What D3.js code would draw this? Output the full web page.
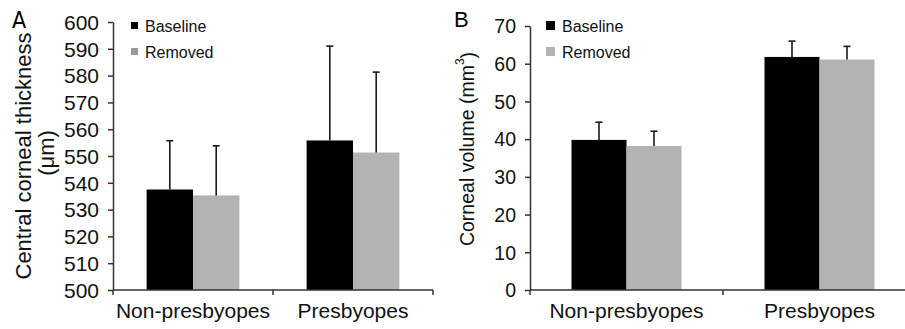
<!DOCTYPE html>
<html>
<head>
<meta charset="utf-8">
<script src="https://cdn.jsdelivr.net/npm/d3@7"></script>
<style>
  body { margin: 0; background: #fff; }
  text { font-family: "Liberation Sans", Arial, sans-serif; }
</style>
</head>
<body>
<script>
// #region DATA
var groups = ["Non-presbyopes", "Presbyopes"];
var series = ["Baseline", "Removed"];

// panel A: central corneal thickness (um)
var thicknessMean = [[537.5, 535.3], [555.8, 551.3]];
var thicknessSD = [[18.2, 18.5], [35.2, 30.0]];
var thicknessTicks = [500, 510, 520, 530, 540, 550, 560, 570, 580, 590, 600];

// panel B: corneal volume (mm3)
var volumeMean = [[39.8, 38.2], [61.8, 61.1]];
var volumeSD = [[4.7, 3.9], [4.2, 3.5]];
var volumeTicks = [0, 10, 20, 30, 40, 50, 60, 70];

var barColors = ["#000000", "#b3b3b3"];
// #endregion

var svg = d3.select("body")
    .append("svg")
    .attr("width", 905)
    .attr("height", 329);

// draws one panel
var drawPanel = function(opt) {
    var g = svg.append("g");

    var y = d3.scaleLinear()
        .domain(opt.domain)
        .range([opt.bottom, opt.top]);

    var x0 = d3.scaleBand()
        .domain(groups)
        .range([opt.left, opt.left + 2 * opt.band]);

    var groupW = opt.band * opt.frac;
    var x1 = d3.scaleBand()
        .domain(series)
        .range([(opt.band - groupW) / 2, (opt.band + groupW) / 2]);

    var rows = [];
    groups.forEach(function(grp, i) {
        series.forEach(function(s, j) {
            rows.push({group: grp, series: s, j: j, value: opt.mean[i][j], sd: opt.sd[i][j]});
        });
    });

    // bars
    g.append("g")
        .selectAll("rect")
        .data(rows)
        .enter()
        .append("rect")
            .attr("x", d => x0(d.group) + x1(d.series))
            .attr("y", d => y(d.value))
            .attr("width", x1.bandwidth())
            .attr("height", d => opt.bottom - y(d.value))
            .attr("fill", d => barColors[d.j]);

    // error bars (upper half only)
    var err = g.append("g")
        .attr("stroke", "#1a1a1a")
        .attr("stroke-width", 1.6);

    err.selectAll("line.v")
        .data(rows)
        .enter()
        .append("line")
            .attr("class", "v")
            .attr("x1", d => x0(d.group) + x1(d.series) + x1.bandwidth() / 2)
            .attr("x2", d => x0(d.group) + x1(d.series) + x1.bandwidth() / 2)
            .attr("y1", d => y(d.value))
            .attr("y2", d => y(d.value + d.sd));

    err.selectAll("line.cap")
        .data(rows)
        .enter()
        .append("line")
            .attr("class", "cap")
            .attr("x1", d => x0(d.group) + x1(d.series) + x1.bandwidth() / 2 - 3.5)
            .attr("x2", d => x0(d.group) + x1(d.series) + x1.bandwidth() / 2 + 3.5)
            .attr("y1", d => y(d.value + d.sd))
            .attr("y2", d => y(d.value + d.sd));

    // y axis
    var yAxis = g.append("g")
        .attr("transform", "translate(" + opt.left + ",0)")
        .call(d3.axisLeft(y).tickValues(opt.ticks).tickSize(5).tickSizeOuter(0).tickPadding(9));

    yAxis.selectAll("text")
        .attr("font-size", opt.tickFont + "px")
        .attr("fill", "#111")
        .attr("dy", "0.35em");

    // x axis, ticks sit on the group boundaries
    var xAxis = g.append("g")
        .attr("transform", "translate(0," + opt.bottom + ")");

    xAxis.append("line")
        .attr("x1", opt.left)
        .attr("x2", opt.left + 2 * opt.band)
        .attr("stroke", "#333")
        .attr("stroke-width", 1.5);

    xAxis.selectAll("line.tick")
        .data([0, 1, 2])
        .enter()
        .append("line")
            .attr("class", "tick")
            .attr("x1", d => opt.left + d * opt.band)
            .attr("x2", d => opt.left + d * opt.band)
            .attr("y1", 0)
            .attr("y2", 5)
            .attr("stroke", "#333")
            .attr("stroke-width", 1.5);

    xAxis.selectAll("text")
        .data(groups)
        .enter()
        .append("text")
            .text(d => d)
            .attr("x", d => x0(d) + x0.bandwidth() / 2)
            .attr("y", 28)
            .attr("text-anchor", "middle")
            .attr("font-size", "21px")
            .attr("fill", "#111");

    yAxis.select(".domain").attr("stroke", "#333").attr("stroke-width", 1.5);
    yAxis.selectAll(".tick line").attr("stroke", "#333").attr("stroke-width", 1.5);

    // legend
    var leg = g.append("g");
    series.forEach(function(s, j) {
        var ly = opt.legY + j * 26;
        leg.append("rect")
            .attr("x", opt.legX)
            .attr("y", ly - opt.legSq / 2)
            .attr("width", opt.legSq)
            .attr("height", opt.legSq)
            .attr("fill", j == 0 ? "#000" : opt.legGrey);
        leg.append("text")
            .text(s)
            .attr("x", opt.legX + opt.legSq + 7)
            .attr("y", ly + 6)
            .attr("font-size", "16px")
            .attr("fill", "#111");
    });

    return g;
};

// #region PANEL A
var gA = drawPanel({
    domain: [500, 600], ticks: thicknessTicks,
    mean: thicknessMean, sd: thicknessSD,
    left: 113, band: 160, frac: 0.58,
    top: 22, bottom: 290, tickFont: 21,
    legX: 131, legY: 25.5, legSq: 7, legGrey: "#999"
});

gA.append("text")
    .text("A")
    .attr("x", 12)
    .attr("y", 28)
    .attr("font-size", "23px")
    .style("font-family", "'Liberation Sans Narrow', 'DejaVu Sans Condensed', sans-serif")
    .attr("fill", "#000");

gA.append("text")
    .text("Central corneal thickness")
    .attr("transform", "translate(23,156) rotate(-90)")
    .attr("text-anchor", "middle")
    .attr("dominant-baseline", "central")
    .attr("font-size", "22px")
    .attr("fill", "#111");

gA.append("text")
    .text("(μm)")
    .attr("transform", "translate(46,153) rotate(-90)")
    .attr("text-anchor", "middle")
    .attr("dominant-baseline", "central")
    .attr("font-size", "22px")
    .attr("fill", "#111");
// #endregion

// #region PANEL B
var gB = drawPanel({
    domain: [0, 70], ticks: volumeTicks,
    mean: volumeMean, sd: volumeSD,
    left: 530, band: 193, frac: 0.57,
    top: 26, bottom: 290, tickFont: 19.5,
    legX: 546, legY: 25.5, legSq: 9, legGrey: "#b3b3b3"
});

gB.append("text")
    .text("B")
    .attr("x", 454)
    .attr("y", 27)
    .attr("font-size", "22px")
    .attr("fill", "#000");

var volTitle = gB.append("text")
    .attr("transform", "translate(467,149) rotate(-90)")
    .attr("text-anchor", "middle")
    .attr("dominant-baseline", "central")
    .attr("font-size", "19.5px")
    .attr("fill", "#111");
volTitle.append("tspan").text("Corneal volume (mm");
volTitle.append("tspan").text("3").attr("font-size", "12px").attr("dy", "-0.6em");
volTitle.append("tspan").text(")").attr("dy", "0.4em");
// #endregion
</script>
</body>
</html>
